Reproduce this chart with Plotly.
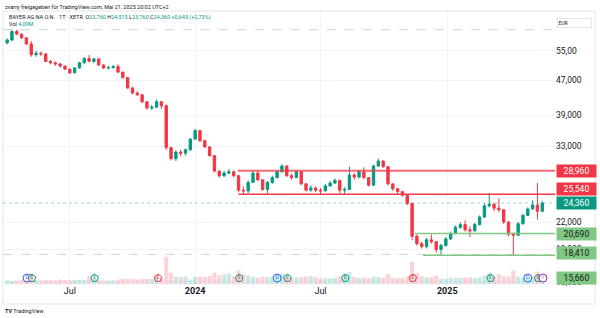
import numpy as np
import pandas as pd
import plotly.graph_objects as go

# ---------------- data (weekly candles) ----------------
week_start = "2023-04-03"
open_ = [57.4, 58.3, 61.0, 60.2, 59.0, 57.1, 53.9, 54.3, 54.1, 52.0, 51.6, 51.3, 50.7, 49.9,
         48.9, 50.2, 51.6, 52.8, 52.0, 52.7, 51.0, 50.2, 50.3, 50.6, 49.1, 47.7, 45.1, 43.9,
         43.5, 41.9, 40.5, 40.7, 41.9, 41.0, 32.8, 30.9, 32.0, 31.8, 32.4, 34.3, 35.9, 34.0,
         32.9, 31.4, 28.9, 28.2, 28.6, 28.8, 28.2, 26.1, 26.0, 27.2, 28.6, 27.6, 26.2, 27.2,
         27.9, 28.8, 29.7, 28.2, 27.9, 28.8, 27.0, 26.1, 26.4, 26.1, 26.0, 26.7, 27.1, 27.5,
         26.1, 26.2, 28.3, 28.0, 28.8, 27.9, 26.8, 29.7, 30.5, 29.6, 27.0, 26.3, 25.9, 25.4,
         24.3, 20.4, 19.6, 19.3, 20.0, 19.8, 19.0, 19.4, 20.1, 20.7, 21.4, 21.7, 21.1, 21.0,
         21.7, 22.6, 24.0, 24.2, 23.7, 23.5, 22.0, 20.6, 20.5, 21.8, 22.8, 23.6, 24.1, 23.3]
high = [58.8, 61.5, 61.6, 60.3, 59.2, 58.0, 55.0, 54.8, 54.4, 52.4, 52.0, 51.5, 50.9, 49.9,
        50.4, 51.9, 53.2, 53.8, 53.0, 52.8, 51.2, 50.8, 51.0, 51.2, 49.2, 47.8, 45.4, 44.3,
        43.6, 42.0, 41.2, 42.4, 42.0, 41.3, 32.9, 32.3, 32.4, 32.6, 34.5, 36.2, 36.0, 34.2,
        33.0, 31.5, 29.0, 28.9, 29.2, 29.0, 28.2, 26.6, 27.5, 28.9, 29.0, 27.7, 27.4, 28.2,
        29.0, 30.0, 29.8, 28.5, 29.0, 28.8, 27.0, 26.8, 26.6, 26.4, 27.0, 27.4, 27.8, 27.6,
        26.5, 29.6, 28.6, 29.0, 29.5, 28.0, 29.9, 30.9, 30.6, 29.6, 27.0, 26.4, 25.9, 25.4,
        24.4, 20.6, 19.8, 20.2, 20.6, 19.9, 19.6, 20.3, 20.9, 21.6, 22.0, 22.2, 21.5, 21.9,
        22.8, 24.3, 25.7, 24.4, 25.0, 23.6, 22.1, 20.8, 22.0, 23.0, 23.8, 24.7, 27.1, 24.6]
low = [57.0, 58.0, 59.8, 58.6, 56.8, 53.3, 53.3, 53.6, 51.8, 51.2, 50.8, 50.3, 49.6, 48.6,
       48.8, 50.0, 51.4, 51.8, 51.5, 50.8, 49.9, 49.8, 50.0, 48.9, 47.4, 44.9, 43.6, 43.2,
       41.6, 40.2, 40.1, 40.6, 40.3, 32.4, 30.6, 30.5, 31.3, 31.4, 32.2, 34.2, 33.8, 32.7,
       31.2, 28.7, 27.9, 28.0, 28.4, 27.9, 25.8, 25.6, 25.7, 27.2, 27.4, 26.0, 25.6, 27.0,
       27.8, 28.7, 28.0, 27.6, 27.9, 26.8, 25.9, 25.9, 25.8, 25.5, 25.9, 26.6, 27.0, 25.7,
       25.6, 26.2, 27.6, 27.8, 27.7, 26.6, 26.7, 29.6, 29.4, 26.8, 26.0, 25.6, 25.2, 24.1,
       20.0, 19.4, 19.1, 19.1, 19.6, 18.7, 18.5, 19.3, 20.0, 20.6, 21.2, 20.9, 20.3, 20.9,
       21.6, 22.5, 23.8, 23.3, 23.2, 21.8, 20.4, 18.5, 20.4, 21.7, 22.7, 23.5, 22.3, 23.2]
close = [58.3, 61.0, 60.2, 59.0, 57.1, 53.9, 54.3, 54.1, 52.0, 51.6, 51.3, 50.7, 49.9, 48.9,
         50.2, 51.6, 52.8, 52.0, 52.7, 51.0, 50.2, 50.3, 50.6, 49.1, 47.7, 45.1, 43.9, 43.5,
         41.9, 40.5, 40.7, 41.9, 41.0, 32.8, 30.9, 32.0, 31.8, 32.4, 34.3, 35.9, 34.0, 32.9,
         31.4, 28.9, 28.2, 28.6, 28.8, 28.2, 26.1, 26.0, 27.2, 28.6, 27.6, 26.2, 27.2, 27.9,
         28.8, 29.7, 28.2, 27.9, 28.8, 27.0, 26.1, 26.4, 26.1, 26.0, 26.7, 27.1, 27.5, 26.1,
         26.2, 28.3, 28.0, 28.8, 27.9, 26.8, 29.7, 30.5, 29.6, 27.0, 26.3, 25.9, 25.4, 24.3,
         20.4, 19.6, 19.3, 20.0, 19.8, 19.0, 19.4, 20.1, 20.7, 21.4, 21.7, 21.1, 21.0, 21.7,
         22.6, 24.0, 24.2, 23.7, 23.5, 22.0, 20.6, 20.5, 21.8, 22.8, 23.6, 24.1, 23.3, 24.36]
volume_m = [14, 12, 13, 15, 18, 40, 16, 14, 15, 16, 14, 18, 16, 15, 17, 16, 17, 30, 20, 15,
            14, 13, 15, 18, 22, 20, 21, 18, 20, 22, 20, 30, 22, 110, 45, 30, 28, 30, 18, 28,
            30, 28, 32, 45, 35, 38, 42, 30, 55, 40, 35, 28, 26, 30, 28, 30, 32, 42, 30, 26,
            25, 28, 30, 32, 28, 22, 24, 22, 24, 30, 38, 48, 28, 24, 26, 24, 30, 28, 26, 40,
            26, 24, 24, 28, 90, 45, 30, 26, 28, 34, 22, 20, 26, 24, 25, 26, 28, 24, 26, 35,
            45, 30, 40, 32, 30, 55, 30, 26, 24, 28, 50, 14]

# drawn horizontal levels
level_prices = [28.96, 25.54, 20.69, 18.41, 15.66]
level_starts = ["2024-03-03", "2024-03-04", "2024-11-15", "2024-11-27", "2024-11-27"]
level_colors = ["rgba(242,54,69,0.75)", "#F23645", "#81C784", "#81C784", "rgba(129,199,132,0.6)"]
level_widths = [2, 1.5, 1.5, 1.5, 1.2]
level_labels = ["28,960", "25,540", "20,690", "18,410", "15,660"]
level_label_bg = ["#F23645", "#F23645", "#81C784", "#81C784", "#81C784"]
level_label_fg = ["#ffffff", "#ffffff", "#131722", "#131722", "#131722"]
level_label_shift = [0, 5, 0, 2, 0]

last_price = 24.36
last_label = "24,360"

# events along the bottom
ev_dates = ["2023-05-02", "2023-05-09", "2023-08-08", "2023-11-08", "2024-03-05", "2024-04-29",
            "2024-05-14", "2024-08-06", "2024-11-12", "2025-03-05", "2025-04-28", "2025-05-13",
            "2025-05-20"]
ev_text = ["D", "E", "E", "E", "E", "D", "E", "E", "E", "E", "D", "E", "⚡"]
ev_color = ["#2962FF", "#089981", "#089981", "#F23645", "#089981", "#2962FF", "#089981",
            "#089981", "#F23645", "#089981", "#2962FF", "#089981", "#9C27B0"]
ev_symbol = ["circle", "pentagon", "pentagon", "pentagon", "pentagon", "circle", "pentagon",
             "pentagon", "pentagon", "pentagon", "circle", "pentagon", "circle"]

y_tick_vals = [16, 19, 22, 33, 39, 47, 55]
y_tick_text = ["16,000", "19,000", "22,000", "33,000", "39,000", "47,000", "55,00"]
x_tick_vals = ["2023-07-03", "2024-01-01", "2024-07-01", "2025-01-01"]
x_tick_text = ["Jul", "<b>2024</b>", "Jul", "<b>2025</b>"]

x_range = ["2023-03-28", "2025-06-06 12:00"]
y_lo, y_hi = 15.79, 68.1

# ---------------- figure ----------------
W, H = 600, 318
ML, MR, MT, MB = 3, 45, 11, 34
PW, PH = W - ML - MR, H - MT - MB


def px_x(px):
    return (px - ML) / PW


def px_y(py):
    return (H - MB - py) / PH


def price_to_paper(p):
    return (np.log10(p) - np.log10(y_lo)) / (np.log10(y_hi) - np.log10(y_lo))


dates = pd.date_range(week_start, periods=len(close), freq="7D")
up = [c >= o for o, c in zip(open_, close)]
vol_colors = ["rgba(8,153,129,0.22)" if u else "rgba(242,54,69,0.22)" for u in up]

fig = go.Figure()

fig.add_trace(go.Bar(x=dates, y=volume_m, marker=dict(color=vol_colors, line=dict(width=0)),
                     yaxis="y2", hoverinfo="skip", showlegend=False))

for v in (max(high), min(low)):
    fig.add_trace(go.Scatter(x=x_range, y=[v, v], mode="lines",
                             line=dict(color="rgba(178,181,190,0.6)", width=1, dash="dash"),
                             hoverinfo="skip", showlegend=False))

fig.add_trace(go.Scatter(x=x_range, y=[last_price, last_price], mode="lines",
                         line=dict(color="rgba(8,153,129,0.4)", width=1, dash="dot"),
                         hoverinfo="skip", showlegend=False))

for p, s, c, w in zip(level_prices, level_starts, level_colors, level_widths):
    fig.add_trace(go.Scatter(x=[s, x_range[1]], y=[p, p], mode="lines",
                             line=dict(color=c, width=w), hoverinfo="skip", showlegend=False))

fig.add_trace(go.Candlestick(
    x=dates, open=open_, high=high, low=low, close=close,
    increasing=dict(line=dict(color="#089981", width=1), fillcolor="#089981"),
    decreasing=dict(line=dict(color="#F23645", width=1), fillcolor="#F23645"),
    whiskerwidth=0, showlegend=False, hoverinfo="skip"))

fig.add_trace(go.Scatter(
    x=ev_dates, y=[16.3] * len(ev_dates), mode="markers+text", text=ev_text,
    textposition="middle center",
    textfont=dict(size=5, color=ev_color, family="DejaVu Sans"),
    marker=dict(symbol=ev_symbol, size=8, color="white", line=dict(color=ev_color, width=1)),
    hoverinfo="skip", showlegend=False))

fig.update_layout(
    width=W, height=H, margin=dict(l=ML, r=MR, t=MT, b=MB),
    paper_bgcolor="white", plot_bgcolor="white", bargap=0.15,
    font=dict(family="Roboto", size=9, color="#131722"),
    xaxis=dict(type="date", range=x_range, tickvals=x_tick_vals, ticktext=x_tick_text,
               showgrid=True, gridcolor="#f0f3fa", zeroline=False, showline=False, ticks="",
               tickfont=dict(size=9, color="#131722"), rangeslider=dict(visible=False),
               fixedrange=True),
    yaxis=dict(type="log", range=[np.log10(y_lo), np.log10(y_hi)], side="right",
               tickvals=y_tick_vals, ticktext=y_tick_text, showgrid=True, gridcolor="#f0f3fa",
               zeroline=False, showline=False, ticks="", tickfont=dict(size=8.5, color="#131722"),
               fixedrange=True),
    yaxis2=dict(overlaying="y", range=[0, 1100], visible=False, fixedrange=True),
)

# price labels on the right scale (kept inside the pane, as the scale does)
label_floor = px_y(278)
for p, t, bg, fg, sh in zip(level_prices, level_labels, level_label_bg, level_label_fg,
                            level_label_shift):
    fig.add_annotation(xref="paper", yref="paper", x=1, y=max(price_to_paper(p), label_floor),
                       xanchor="left", yanchor="middle", xshift=1, yshift=sh, text=t,
                       showarrow=False, bgcolor=bg, width=37, height=10, borderpad=1,
                       font=dict(size=8.5, color=fg), align="center")
fig.add_annotation(xref="paper", yref="paper", x=1, y=price_to_paper(last_price),
                   xanchor="left", yanchor="middle", xshift=1, text=last_label,
                   showarrow=False, bgcolor="#089981", width=37, height=10, borderpad=1,
                   font=dict(size=8.5, color="white"), align="center")

fig.add_annotation(xref="paper", yref="paper", x=1, y=px_y(17.5), xanchor="left", xshift=2,
                   text="EUR", showarrow=False, width=32, height=7, align="left",
                   bordercolor="#e0e3eb", borderwidth=1, borderpad=0.5,
                   font=dict(size=5, color="#131722"))

fig.add_annotation(xref="paper", yref="paper", x=px_x(3), y=px_y(6.5), xanchor="left",
                   yanchor="middle", showarrow=False,
                   text="zvarry freigegeben für TradingView.com, Mai 21, 2025 20:02 UTC+2",
                   font=dict(size=5.5, color="#131722"))
teal = "#089981"
hdr = ("BAYER AG NA O.N. · 1T · XETR  "
       f"O<span style='color:{teal}'>23,760</span> H<span style='color:{teal}'>24,515</span> "
       f"L<span style='color:{teal}'>23,760</span> C<span style='color:{teal}'>24,360</span> "
       f"<span style='color:{teal}'>+0,645 (+2,73%)</span>")
fig.add_annotation(xref="paper", yref="paper", x=px_x(7), y=px_y(17), xanchor="left",
                   yanchor="middle", showarrow=False, text=hdr,
                   font=dict(size=5.5, color="#131722"))
fig.add_annotation(xref="paper", yref="paper", x=px_x(7), y=px_y(24), xanchor="left",
                   yanchor="middle", showarrow=False,
                   text=f"Vol <span style='color:{teal}'>4,09M</span>",
                   font=dict(size=5.5, color="#131722"))
fig.add_annotation(xref="paper", yref="paper", x=px_x(3), y=px_y(311), xanchor="left",
                   yanchor="middle", showarrow=False, text="<b>TV</b> TradingView",
                   font=dict(size=5.5, color="#131722"))

line_c = "#e0e3eb"
fig.add_shape(type="rect", xref="paper", yref="paper", x0=0, x1=px_x(595), y0=px_y(304),
              y1=1, line=dict(color=line_c, width=1), layer="below")
fig.add_shape(type="line", xref="paper", yref="paper", x0=0, x1=px_x(595), y0=0, y1=0,
              line=dict(color="#f0f3fa", width=1), layer="below")

fig.write_html("out.html", config={"displayModeBar": False},
               post_script="document.body.style.margin='0';")
